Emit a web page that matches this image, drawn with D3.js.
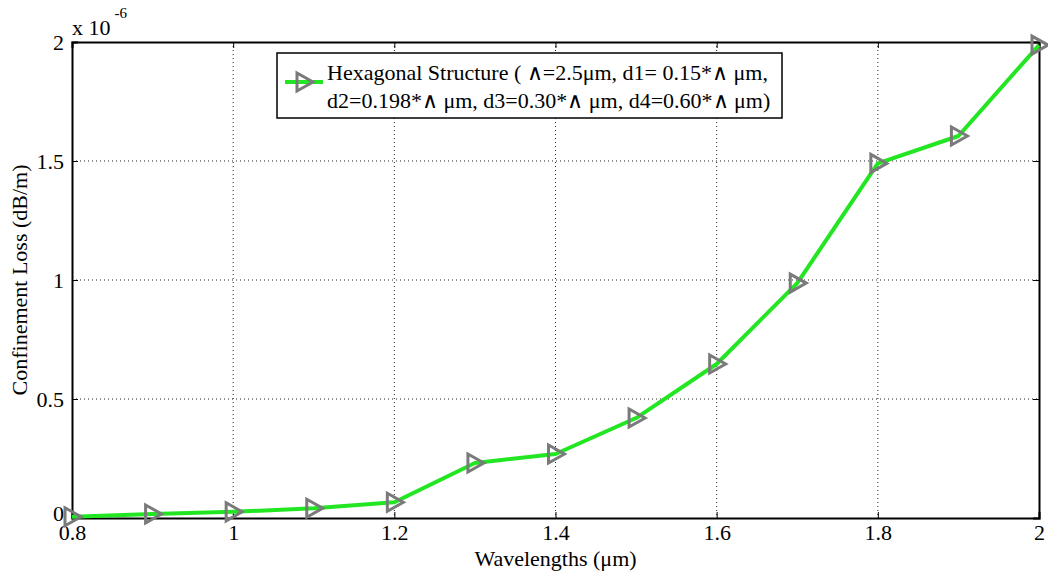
<!DOCTYPE html>
<html><head><meta charset="utf-8">
<script src="https://cdn.jsdelivr.net/npm/d3@7"></script>
<style>body{margin:0;background:#fff}svg{display:block;font-family:"Liberation Serif","Times New Roman",serif}</style>
</head><body><svg id="c" width="1048" height="574"></svg>
<script>
const wavelengths = [0.8,0.9,1.0,1.1,1.2,1.3,1.4,1.5,1.6,1.7,1.8,1.9,2.0];
const loss = [0.005,0.017,0.026,0.041,0.066,0.231,0.269,0.42,0.647,0.987,1.49,1.605,1.987];
const xTicks = [0.8,1,1.2,1.4,1.6,1.8,2];
const yTicks = [0,0.5,1,1.5,2];
const legendLines = ["Hexagonal Structure ( \u2227=2.5\u03bcm, d1= 0.15*\u2227 \u03bcm,", "d2=0.198*\u2227 \u03bcm, d3=0.30*\u2227 \u03bcm, d4=0.60*\u2227 \u03bcm)"];

const FS = "22px";
const svg = d3.select("#c");
const L=72,T=42,R=1039,B=518;
const x = d3.scaleLinear().domain([0.8,2]).range([L,R]);
const y = d3.scaleLinear().domain([0,2]).range([B,T]);

// grid
svg.append("g").selectAll("line").data(xTicks.slice(1,-1)).join("line")
  .attr("x1",d=>x(d)).attr("x2",d=>x(d)).attr("y1",T).attr("y2",B)
  .attr("stroke","#222").attr("stroke-width",1).attr("stroke-dasharray","1,3");
svg.append("g").selectAll("line").data(yTicks.slice(1,-1)).join("line")
  .attr("x1",L).attr("x2",R).attr("y1",d=>y(d)).attr("y2",d=>y(d))
  .attr("stroke","#222").attr("stroke-width",1).attr("stroke-dasharray","1,3");

// axes
const xa = svg.append("g").attr("transform",`translate(0,${B})`)
  .call(d3.axisBottom(x).tickValues(xTicks).tickSize(-6).tickPadding(5).tickFormat(d3.format("")));
const ya = svg.append("g").attr("transform",`translate(${L},0)`)
  .call(d3.axisLeft(y).tickValues(yTicks).tickSize(-6).tickPadding(8).tickFormat(d3.format("")));
const xt = svg.append("g").attr("transform",`translate(0,${T})`)
  .call(d3.axisTop(x).tickValues(xTicks).tickSize(-6).tickFormat(""));
const yr = svg.append("g").attr("transform",`translate(${R},0)`)
  .call(d3.axisRight(y).tickValues(yTicks).tickSize(-6).tickFormat(""));
[xa,ya,xt,yr].forEach(g=>{
  g.select(".domain").attr("stroke","#000").attr("stroke-width",2);
  g.selectAll(".tick line").attr("stroke","#000").attr("stroke-width",1);
  g.selectAll(".tick text").attr("fill","#000").style("font-size",FS).style("font-family","Liberation Serif");
});
xa.selectAll(".tick text").attr("dy","0.75em");
ya.selectAll(".tick text").filter(d=>d===0).attr("dy","0.1em");

// exponent
const ex = svg.append("text").attr("x",72).attr("y",35).style("font-size",FS).attr("fill","#000");
ex.append("tspan").text("x 10");
ex.append("tspan").attr("dy",-17).attr("dx",4).style("font-size","15px").text("-6");

// labels
svg.append("text").attr("x",(L+R)/2).attr("y",566).attr("text-anchor","middle")
  .style("font-size",FS).text("Wavelengths (\u03bcm)");
svg.append("text").attr("transform",`translate(27,${(T+B)/2}) rotate(-90)`).attr("text-anchor","middle")
  .style("font-size",FS).text("Confinement Loss (dB/m)");

// line
const pts = wavelengths.map((w,i)=>[w,loss[i]]);
svg.append("path").datum(pts).attr("fill","none").attr("stroke","#22e622").attr("stroke-width",4)
  .attr("stroke-linejoin","round").attr("d",d3.line().x(d=>x(d[0])).y(d=>y(d[1])));
const tri = "M-7,-9 L9,0 L-7,9 Z";
svg.append("g").selectAll("path").data(pts).join("path")
  .attr("transform",d=>`translate(${x(d[0])},${y(d[1])})`).attr("d",tri)
  .attr("fill","none").attr("stroke","#7a7a7a").attr("stroke-width",3);

// legend
const lg = svg.append("g");
lg.append("rect").attr("x",277).attr("y",53).attr("width",505).attr("height",65)
  .attr("fill","#fff").attr("stroke","#000").attr("stroke-width",1.5);
lg.append("line").attr("x1",285).attr("x2",323).attr("y1",82).attr("y2",82).attr("stroke","#22e622").attr("stroke-width",4);
lg.append("path").attr("transform","translate(304,82)").attr("d",tri).attr("fill","none").attr("stroke","#7a7a7a").attr("stroke-width",3);
lg.selectAll("text").data(legendLines).join("text").attr("x",327).attr("y",(d,i)=>80+i*28)
  .style("font-size",FS).attr("fill","#000").text(d=>d);
</script></body></html>
